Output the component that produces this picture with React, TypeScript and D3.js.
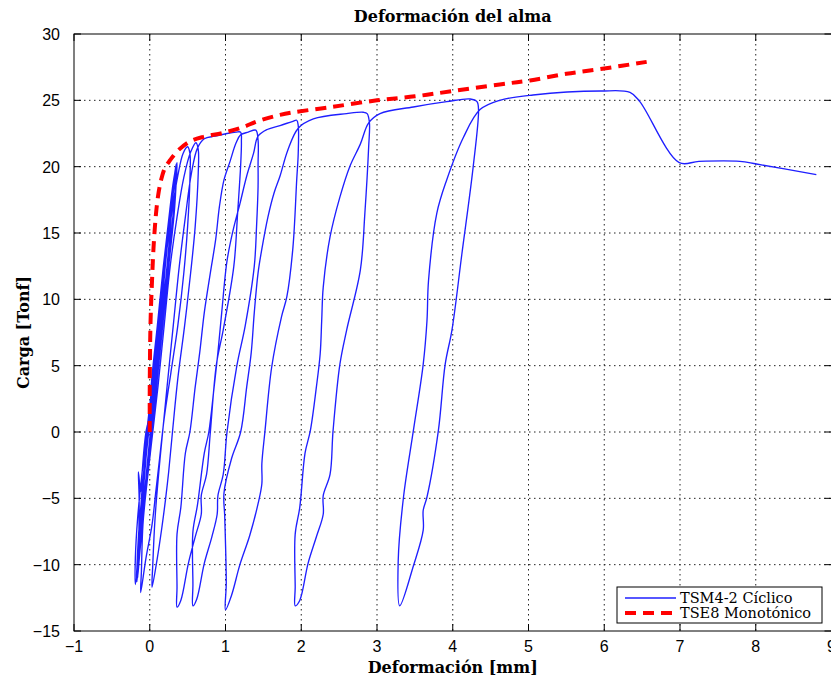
import React from 'react';
import * as d3 from 'd3';

type Pt = [number, number];

const xTicks = [-1, 0, 1, 2, 3, 4, 5, 6, 7, 8, 9];
const yTicks = [-15, -10, -5, 0, 5, 10, 15, 20, 25, 30];

// TSE8 monotonic test (red dashed)
const monotonic: Pt[] = [
  [0, 0], [0.0, 3.4], [0.01, 8.2], [0.03, 11.4], [0.05, 13.9], [0.08, 16.3], [0.11, 17.8],
  [0.15, 19.0], [0.2, 19.9], [0.27, 20.5], [0.37, 21.2], [0.53, 21.9], [0.71, 22.25],
  [0.97, 22.55], [1.24, 23.0], [1.41, 23.4], [1.72, 23.9], [1.9, 24.1], [2.4, 24.5],
  [3.0, 25.0], [3.5, 25.3], [4.0, 25.7], [4.62, 26.2], [5.02, 26.5], [5.5, 27.0],
  [6.0, 27.4], [6.56, 27.9],
];

// TSM4-2 cyclic test (blue), read cycle by cycle
const bundle: Pt[] = [
  [0, 0], [0.05, 3.5], [0.1, 7], [0.16, 11], [0.2, 13.5], [0.18, 10.5], [0.11, 6], [0.04, 1.5],
  [-0.02, -2], [-0.06, -4.5], [-0.08, -6], [-0.05, -3.5], [0.0, -0.5], [0.06, 3],
  [0.12, 7], [0.19, 11.5], [0.25, 15.5], [0.29, 18], [0.28, 16], [0.22, 12], [0.14, 7.5],
  [0.06, 2.5], [-0.01, -1.5], [-0.08, -5], [-0.13, -8], [-0.16, -10], [-0.14, -8.5],
  [-0.11, -5], [-0.06, -2], [0.0, 1],
  [0.07, 5], [0.14, 9.5], [0.21, 13.5], [0.28, 17], [0.33, 19.5], [0.35, 20.2], [0.34, 18.5],
  [0.3, 15.5], [0.23, 11.5], [0.15, 7], [0.07, 2.5], [0.0, -1.5], [-0.07, -5], [-0.12, -8],
  [-0.17, -11], [-0.15, -9], [-0.14, -5], [-0.15, -3], [-0.12, -4.5], [-0.1, -3], [-0.05, 0],
  [0.03, 2], [0.1, 6.5], [0.17, 10.5], [0.24, 14.5], [0.3, 17.5], [0.34, 19.5], [0.33, 17.8],
  [0.27, 14], [0.2, 10], [0.12, 5.5], [0.04, 1], [-0.03, -2.5], [-0.09, -6], [-0.14, -9],
  [-0.18, -11.2], [-0.16, -9.5], [-0.12, -6], [-0.08, -3], [-0.02, 0.5],
  [0.06, 4.5], [0.13, 8.5], [0.2, 12.5], [0.27, 16], [0.32, 18.5], [0.35, 19.8], [0.33, 17],
  [0.26, 13], [0.18, 8.5], [0.1, 4], [0.03, 0], [-0.04, -3.5], [-0.1, -7], [-0.15, -10],
  [-0.17, -11.3], [-0.15, -8], [-0.1, -4.5], [-0.04, -1],
  [0.04, 3], [0.11, 7.5], [0.19, 12], [0.26, 15.8], [0.32, 18.9], [0.36, 20.1], [0.34, 18],
  [0.28, 14.5], [0.21, 10.5], [0.13, 6], [0.05, 1.5], [-0.02, -2.5], [-0.08, -6], [-0.13, -9],
  [-0.16, -11], [-0.14, -9], [-0.1, -5.5], [-0.05, -2], [0.01, 1.5],
  [0.02, 3.5], [0.1, 8], [0.18, 12.5], [0.25, 16], [0.31, 18.8], [0.36, 20.3], [0.35, 19],
  [0.31, 16.5], [0.25, 13], [0.17, 8.5], [0.09, 4], [0.02, 0], [-0.05, -3.5], [-0.11, -7],
  [-0.15, -9.5], [-0.19, -11.5],
];
const smallLoops: Pt[] = [
  [-0.19, -9.5], [-0.16, -6.5], [-0.1, -3], [-0.03, 0.5], [0.05, 4.5], [0.13, 9], [0.21, 13],
  [0.29, 16.5], [0.37, 19.3], [0.44, 21], [0.5, 21.5], [0.53, 21], [0.53, 19], [0.5, 15.5],
  [0.45, 12], [0.37, 8], [0.28, 4.5], [0.19, 1], [0.13, -2], [0.08, -4.5], [0.03, -7],
  [-0.05, -9.5], [-0.12, -12.1],
  [-0.11, -10.5], [-0.09, -7], [-0.03, -3.5], [0.04, 0], [0.11, 3.5], [0.19, 8], [0.27, 12.5],
  [0.36, 16.2], [0.45, 19.2], [0.54, 21.1], [0.61, 21.8], [0.64, 21.3], [0.64, 19.5],
  [0.6, 15.5], [0.54, 12], [0.46, 8], [0.37, 4], [0.3, 0], [0.25, -3], [0.21, -5], [0.16, -7.2],
  [0.1, -9.5], [0.03, -11.7],
  [0.04, -10], [0.07, -6.5], [0.12, -3], [0.17, 0], [0.23, 3.5], [0.31, 8], [0.39, 12.5],
  [0.47, 16.2], [0.55, 19.5], [0.63, 21.4], [0.72, 22.1], [0.86, 22.3], [1.02, 22.5],
  [1.14, 22.6], [1.2, 22.6],
];
const loop1: Pt[] = [
  [1.21, 21.9], [1.2, 20.1], [1.16, 16.5], [1.11, 12.5], [0.97, 7.7], [0.88, 5.1], [0.8, 0],
  [0.75, -3.2], [0.68, -4.8], [0.68, -6.2], [0.6, -7.9], [0.51, -9.9], [0.41, -12.7], [0.36, -13.2],
  [0.36, -11.7], [0.36, -7.7], [0.41, -5.7], [0.47, -1.6], [0.53, 0], [0.6, 3.4], [0.66, 6],
  [0.72, 9], [0.8, 12], [0.87, 14.5], [0.92, 17], [0.98, 19], [1.06, 20.4], [1.14, 21.8],
  [1.2, 22.4], [1.3, 22.6], [1.4, 22.75],
];
const loop2: Pt[] = [
  [1.43, 22], [1.43, 20.2], [1.43, 18.5], [1.41, 15.5], [1.38, 12.5], [1.26, 8], [1.15, 5],
  [1.02, 0], [0.97, -3.2], [0.9, -4.8], [0.89, -6.2], [0.82, -7.9], [0.72, -9.9], [0.62, -12.6],
  [0.57, -13.1],
  [0.57, -11.5], [0.57, -7.5], [0.63, -5.5], [0.72, -1.6], [0.78, 0], [0.85, 3.4], [0.9, 6],
  [0.95, 9], [1.02, 12.9], [1.1, 15.2], [1.19, 17.2], [1.28, 19.3], [1.37, 21], [1.43, 22.3],
  [1.55, 22.8], [1.72, 23.1], [1.88, 23.4], [1.94, 23.5],
];
const loop3: Pt[] = [
  [1.96, 23.1], [1.96, 21], [1.94, 19], [1.89, 13.9], [1.81, 10.2], [1.74, 8.7], [1.61, 4.9],
  [1.52, 0], [1.48, -2.4], [1.48, -3.9], [1.43, -5.4], [1.32, -7.8], [1.19, -10], [1.08, -12.3],
  [1.0, -13.4],
  [1.01, -11.4], [0.99, -6.4], [0.98, -4.6], [1.08, -2], [1.2, 0], [1.28, 3.4], [1.34, 6],
  [1.38, 9], [1.43, 12], [1.48, 13.8], [1.56, 16.2], [1.64, 18], [1.72, 19.3], [1.82, 21.2],
  [1.96, 22.9], [2.16, 23.6], [2.6, 24.0], [2.82, 24.1],
];
const loop4: Pt[] = [
  [2.87, 24.0], [2.9, 23.3], [2.89, 21.5], [2.84, 16.5], [2.78, 12.2], [2.6, 7.7], [2.51, 5.1],
  [2.42, 0.1], [2.38, -3.2], [2.29, -4.8], [2.29, -6.2], [2.2, -7.9], [2.09, -9.9], [1.98, -12.7],
  [1.92, -13.1],
  [1.92, -11.7], [1.92, -7.7], [1.98, -5.7], [2.05, -1.6], [2.12, 0.1], [2.2, 3.4], [2.25, 5.9],
  [2.27, 8.4], [2.29, 10.9], [2.38, 14.7], [2.51, 17.7], [2.64, 20], [2.78, 21.7], [2.89, 23.3],
  [3.04, 24], [3.48, 24.5], [3.92, 24.9], [4.23, 25.1], [4.32, 24.9],
];
const loop5: Pt[] = [
  [4.34, 24.3], [4.27, 20], [4.12, 13.4], [3.99, 7.7], [3.9, 5.1], [3.81, 0.1], [3.66, -4.9],
  [3.61, -5.9], [3.61, -7.4], [3.48, -10.1], [3.3, -13.1],
  [3.28, -9.7], [3.35, -4.9], [3.48, 0.1], [3.61, 5.1], [3.66, 8.4], [3.68, 11.4], [3.79, 16.5],
  [3.92, 19], [4.14, 22.2], [4.36, 24.3], [4.62, 25], [5.06, 25.4],
];
const tail: Pt[] = [
  [5.95, 25.7], [6.34, 25.6], [6.47, 24.9], [6.99, 20.3], [7.25, 20.4], [7.79, 20.4],
  [8.01, 20.2], [8.8, 19.4],
];

const cyclic: Pt[] = [...bundle, ...smallLoops, ...loop1, ...loop2, ...loop3, ...loop4, ...loop5, ...tail];

const W = 831;
const H = 680;

export default function App() {
  const x = d3.scaleLinear().domain([-1, 9]).range([74, 831.5]);
  const y = d3.scaleLinear().domain([-15, 30]).range([631, 34]);
  const [x0, x1] = x.range();
  const [y0, y1] = y.range();
  const line = d3
    .line<Pt>()
    .x(d => x(d[0]))
    .y(d => y(d[1]))
    .curve(d3.curveCatmullRom.alpha(0.5));

  const tick = 7;
  const sans = '"Liberation Sans", Arial, sans-serif';
  const serif = '"DejaVu Serif", serif';

  return (
    <div style={{ position: 'absolute', left: 0, top: 0, width: W, height: H, background: '#fff' }}>
      <svg width={W} height={H} style={{ display: 'block' }}>
        <defs>
          <clipPath id="plot">
            <rect x={x0} y={y1} width={x1 - x0} height={y0 - y1} />
          </clipPath>
        </defs>
        <rect width={W} height={H} fill="#fff" />

        {/* grid */}
        <g stroke="#222" strokeWidth={1} strokeDasharray="1.5,3.5">
          {xTicks.slice(1, -1).map(t => (
            <line key={'gx' + t} x1={x(t)} x2={x(t)} y1={y1} y2={y0} />
          ))}
          {yTicks.slice(1, -1).map(t => (
            <line key={'gy' + t} x1={x0} x2={x1} y1={y(t)} y2={y(t)} />
          ))}
        </g>

        {/* data */}
        <g clipPath="url(#plot)" fill="none">
          <path d={line(cyclic) || ''} stroke="#1f1fff" strokeWidth={1.35} strokeLinejoin="round" />
          <path d={line(monotonic) || ''} stroke="#ff0000" strokeWidth={4} strokeDasharray="11,7" />
        </g>

        {/* axes box and ticks */}
        <rect x={x0} y={y1} width={x1 - x0} height={y0 - y1} fill="none" stroke="#000" strokeWidth={1} />
        <g stroke="#000" strokeWidth={1}>
          {xTicks.map(t => (
            <g key={'tx' + t}>
              <line x1={x(t)} x2={x(t)} y1={y0} y2={y0 - tick} />
              <line x1={x(t)} x2={x(t)} y1={y1} y2={y1 + tick} />
            </g>
          ))}
          {yTicks.map(t => (
            <g key={'ty' + t}>
              <line x1={x0} x2={x0 + tick} y1={y(t)} y2={y(t)} />
              <line x1={x1} x2={x1 - tick} y1={y(t)} y2={y(t)} />
            </g>
          ))}
        </g>

        {/* tick labels */}
        <g fontFamily={sans} fontSize={16} fill="#000">
          {xTicks.map(t => (
            <text key={'lx' + t} x={x(t)} y={y0 + 21} textAnchor="middle">
              {t < 0 ? '\u2212' + Math.abs(t) : t}
            </text>
          ))}
          {yTicks.map(t => (
            <text key={'ly' + t} x={x0 - 14} y={y(t) + 6} textAnchor="end">
              {t < 0 ? '\u2212' + Math.abs(t) : t}
            </text>
          ))}
        </g>

        {/* titles */}
        <text x={(x0 + x1) / 2} y={22} textAnchor="middle" fontFamily={serif} fontWeight="bold" fontSize={16}>
          Deformación del alma
        </text>
        <text x={(x0 + x1) / 2} y={673} textAnchor="middle" fontFamily={serif} fontWeight="bold" fontSize={16}>
          Deformación [mm]
        </text>
        <text
          transform={`translate(29,${(y0 + y1) / 2}) rotate(-90)`}
          textAnchor="middle"
          fontFamily={serif}
          fontWeight="bold"
          fontSize={16}
        >
          Carga [Tonf]
        </text>

        {/* legend */}
        <g>
          <rect x={617} y={587} width={205} height={36} fill="#fff" stroke="#000" strokeWidth={1} />
          <line x1={625} x2={676} y1={598} y2={598} stroke="#1f1fff" strokeWidth={1.35} />
          <line x1={625} x2={676} y1={613} y2={613} stroke="#ff0000" strokeWidth={4} strokeDasharray="11,7" />
          <text x={680} y={603} fontFamily={serif} fontSize={14.5}>TSM4-2 Cíclico</text>
          <text x={680} y={618} fontFamily={serif} fontSize={14.5}>TSE8 Monotónico</text>
        </g>
      </svg>
    </div>
  );
}
